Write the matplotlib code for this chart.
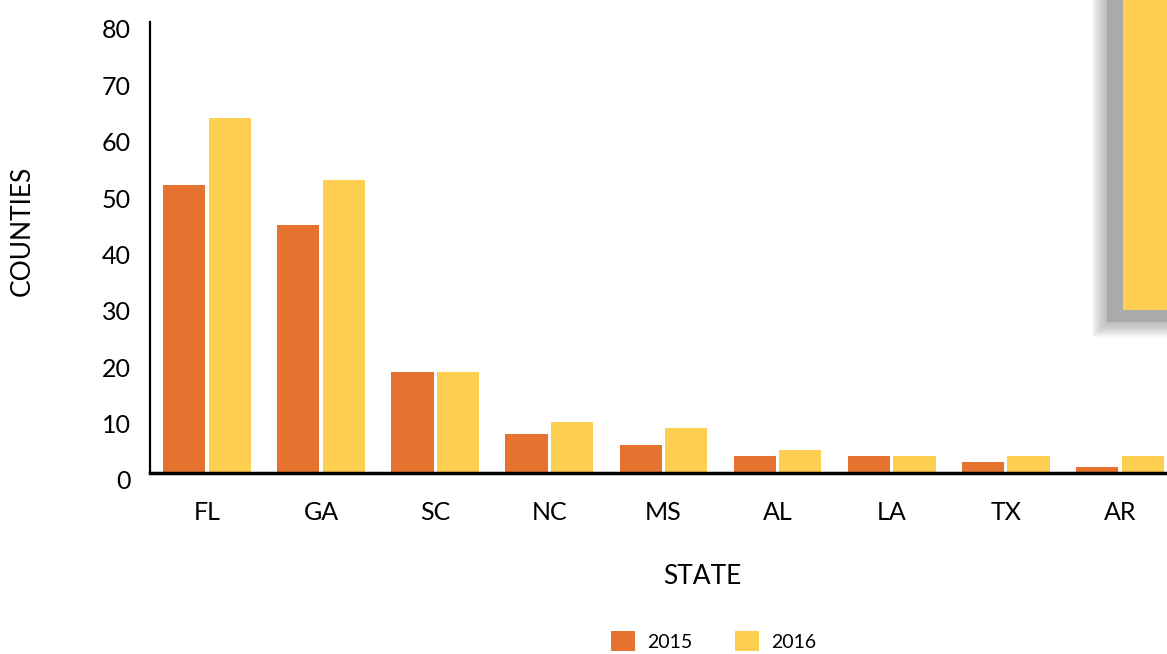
import matplotlib
matplotlib.use("Agg")
import matplotlib.pyplot as plt
import matplotlib.transforms as mtransforms
from matplotlib.patches import Rectangle
import numpy as np

states = ["FL", "GA", "SC", "NC", "MS", "AL", "LA", "TX", "AR"]
counties_2015 = [51, 44, 18, 7, 5, 3, 3, 2, 1]
counties_2016 = [63, 52, 18, 9, 8, 4, 3, 3, 3]
years = ["2015", "2016"]
y_ticks = [0, 10, 20, 30, 40, 50, 60, 70, 80]

orange = "#E5732F"
yellow = "#FECE51"

plt.rcParams['font.family'] = ['Lato', 'DejaVu Sans']

fig = plt.figure(figsize=(11.67, 6.54), dpi=100)
ax = fig.add_axes([150 / 1167, 181 / 654, 9 * 114.1 / 1167, 451 / 654])

x = np.arange(len(states))
w = 0.37
ax.bar(x - 0.2, counties_2015, width=w, color=orange, label=years[0])
ax.bar(x + 0.2, counties_2016, width=w, color=yellow, label=years[1])

ax.set_xlim(-0.5, len(states) - 0.5)
ax.set_ylim(0, 80)
ax.set_yticks(y_ticks)
ax.set_xticks(x)
ax.set_xticklabels(states, fontsize=18)
ax.tick_params(axis='y', length=0, pad=14, labelsize=18)
ax.tick_params(axis='x', length=0, pad=20)

# numbers sit a bit low like the original font
offset = mtransforms.ScaledTranslation(0, -5 / 72, fig.dpi_scale_trans)
for lab in ax.get_yticklabels():
    lab.set_transform(lab.get_transform() + offset)

for s in ["top", "right"]:
    ax.spines[s].set_visible(False)
ax.spines["left"].set_linewidth(1.6)
ax.spines["bottom"].set_linewidth(2.5)

fig.text(702 / 1167, 1 - 576 / 654, "STATE", fontsize=19, ha="center", va="center")
fig.text(22 / 1167, 1 - 231 / 654, "COUNTIES", fontsize=19, ha="center", va="center",
         rotation=90)

fig.legend(loc="center", bbox_to_anchor=(714 / 1167, 1 - 641 / 654), ncol=2,
           frameon=False, fontsize=14, handlelength=1.2, handleheight=1.2,
           columnspacing=2.2, handletextpad=0.65)

# tooltip box at top-right with soft shadow
for i in range(16):
    pad = 15 - i * 1.0
    fig.patches.append(Rectangle(((1107 - pad) / 1167, 1 - (322 + pad) / 654),
                                 (80 + pad) / 1167, (330 + pad) / 654,
                                 transform=fig.transFigure, color="#a8a8a8",
                                 alpha=0.07, lw=0, zorder=0))
fig.patches.append(Rectangle((1107 / 1167, 1 - 322 / 654), 80 / 1167, 330 / 654,
                             transform=fig.transFigure, color="#aaaaaa", lw=0, zorder=0))
fig.patches.append(Rectangle((1123 / 1167, 1 - 310 / 654), 60 / 1167, 320 / 654,
                             transform=fig.transFigure, color=yellow, lw=0, zorder=1))

fig.savefig("out.png", dpi=100)
